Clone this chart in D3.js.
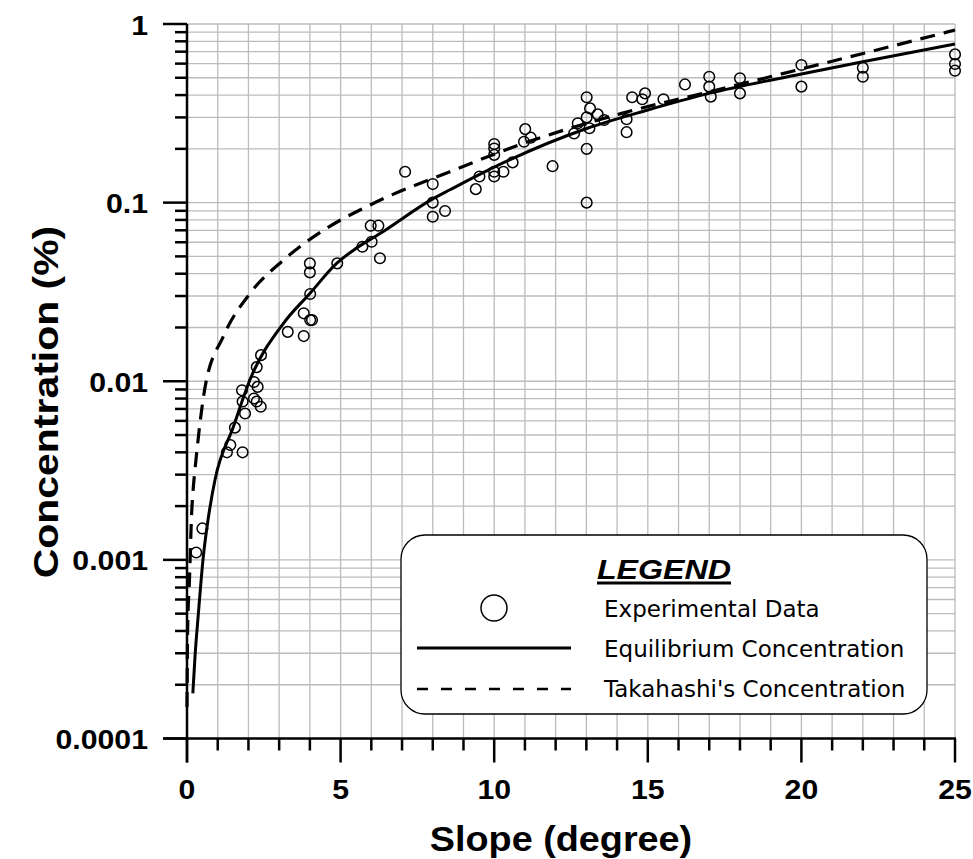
<!DOCTYPE html>
<html>
<head>
<meta charset="utf-8">
<script src="https://cdn.jsdelivr.net/npm/d3@7"></script>
<style>
  body { margin: 0; background: #fff; }
  svg { display: block; }
</style>
</head>
<body>
<div id="chart"></div>
<script>
// experimental points (slope in degree, concentration in %)
const expSlope = [0.30, 0.50, 1.30, 1.41, 1.56, 1.81, 1.79, 1.81, 1.89, 2.18, 2.18, 2.27, 2.27, 2.30, 2.40, 2.41,
    3.28, 3.80, 3.80, 4.01, 4.07, 4.01, 4.00, 4.00, 4.89, 5.71, 6.01, 6.28, 5.98, 6.23,
    7.10, 8.00, 8.00, 8.00, 8.40, 9.40, 9.52, 10.0, 10.0, 10.3, 10.6, 10.0, 10.0, 10.0,
    10.97, 11.01, 11.19, 11.90, 12.60, 12.72, 13.01, 13.12, 13.01, 13.10, 13.37, 13.58, 13.01, 13.01,
    14.31, 14.31, 14.49, 14.82, 14.91, 15.51, 16.21, 17.0, 17.0, 17.05, 18.0, 18.0,
    20.0, 20.0, 22.0, 22.0, 25.0, 25.0, 25.0]
const expConc = [0.0011, 0.0015, 0.0040, 0.0044, 0.0055, 0.0040, 0.0089, 0.0077, 0.0066, 0.0099, 0.0080, 0.0077, 0.0120, 0.0093, 0.0072, 0.0140,
    0.0189, 0.0179, 0.0240, 0.0220, 0.0220, 0.0308, 0.0407, 0.0457, 0.0457, 0.0566, 0.0604, 0.0488, 0.0743, 0.0743,
    0.149, 0.127, 0.100, 0.0834, 0.0897, 0.119, 0.140, 0.140, 0.149, 0.149, 0.168, 0.185, 0.201, 0.213,
    0.219, 0.258, 0.231, 0.160, 0.244, 0.278, 0.389, 0.337, 0.300, 0.261, 0.312, 0.290, 0.200, 0.100,
    0.293, 0.248, 0.389, 0.379, 0.409, 0.379, 0.459, 0.507, 0.446, 0.392, 0.497, 0.409,
    0.589, 0.446, 0.569, 0.507, 0.676, 0.597, 0.548]

// equilibrium concentration curve
const eqSlope = [0.19, 0.26, 0.37, 0.53, 0.69, 0.91, 1.51, 2.05, 3.14, 4.0, 4.87, 5.41, 6.39, 8.0, 8.56, 10, 13.01, 15, 17.02, 20, 22, 25]
const eqConc = [0.000179, 0.000286, 0.0005, 0.00104, 0.0017, 0.0028, 0.00557, 0.0102, 0.0211, 0.031, 0.0457, 0.054, 0.069, 0.105, 0.118, 0.158, 0.26, 0.33, 0.41, 0.525, 0.615, 0.773]

// Takahashi's concentration curve
const takSlope = [0.0, 0.02, 0.08, 0.15, 0.21, 0.26, 0.59, 1.18, 2.05, 3.14, 4.44, 6.01, 8.56, 10.97, 14.15, 17.24, 20, 24.73, 25]
const takConc = [0.00015, 0.0004, 0.00077, 0.0018, 0.0026, 0.0032, 0.0093, 0.0178, 0.031, 0.0477, 0.070, 0.098, 0.149, 0.215, 0.316, 0.427, 0.56, 0.90, 0.925]

const xMajor = [0, 5, 10, 15, 20, 25]
const yMajor = [1, 0.1, 0.01, 0.001, 0.0001]
const yLabels = ["1", "0.1", "0.01", "0.001", "0.0001"]
const legendLabels = ["Experimental Data", "Equilibrium Concentration", "Takahashi's Concentration"]

const W = 973, H = 859
const plot = {left: 187, right: 955, top: 24, bottom: 738.5}

const svg = d3.select("#chart").append("svg")
    .attr("width", W)
    .attr("height", H)

const x = d3.scaleLinear().domain([0, 25]).range([plot.left, plot.right])
const y = d3.scaleLog().domain([0.0001, 1]).range([plot.bottom, plot.top])

// minor log ticks 1..9 per decade
const yMinor = []
for (let e = -4; e < 0; e++) {
    for (let k = 1; k <= 9; k++) yMinor.push(k * Math.pow(10, e))
}
yMinor.push(1)
const xMinor = d3.range(0, 26)

// grid
const grid = svg.append("g").attr("stroke", "#bcbcbc").attr("stroke-width", 1.3)
grid.selectAll("line.v")
    .data(xMinor.slice(1))
    .join("line")
    .attr("x1", d => x(d)).attr("x2", d => x(d))
    .attr("y1", plot.top).attr("y2", plot.bottom)
grid.selectAll("line.h")
    .data(yMinor.slice(1))
    .join("line")
    .attr("x1", plot.left).attr("x2", plot.right)
    .attr("y1", d => y(d)).attr("y2", d => y(d))

// axes lines and ticks
const axes = svg.append("g").attr("stroke", "#000").attr("stroke-width", 2.5)
axes.append("line").attr("x1", plot.left - 24).attr("x2", plot.right + 1).attr("y1", plot.bottom).attr("y2", plot.bottom)
axes.append("line").attr("x1", plot.left).attr("x2", plot.left).attr("y1", plot.top).attr("y2", plot.bottom + 24)
axes.selectAll("line.xt")
    .data(xMinor)
    .join("line")
    .attr("x1", d => x(d)).attr("x2", d => x(d))
    .attr("y1", plot.bottom).attr("y2", d => plot.bottom + (d % 5 === 0 ? 24 : 12))
axes.selectAll("line.yt")
    .data(yMinor)
    .join("line")
    .attr("x1", d => plot.left - (yMajor.includes(d) ? 24 : 12)).attr("x2", plot.left)
    .attr("y1", d => y(d)).attr("y2", d => y(d))

// tick labels
const sx = 1.08
svg.append("g").selectAll("text")
    .data(xMajor)
    .join("text")
    .attr("transform", d => `translate(${x(d)},799) scale(${sx},1)`)
    .attr("text-anchor", "middle")
    .attr("font-family", "'Liberation Sans', Arial, sans-serif")
    .attr("font-weight", "bold")
    .attr("font-size", 28)
    .text(d => d)

svg.append("g").selectAll("text")
    .data(yMajor)
    .join("text")
    .attr("transform", d => `translate(148,${y(d) + 10.5}) scale(${sx},1)`)
    .attr("text-anchor", "end")
    .attr("font-family", "'Liberation Sans', Arial, sans-serif")
    .attr("font-weight", "bold")
    .attr("font-size", 28)
    .text((d, i) => yLabels[i])

// axis titles
svg.append("text")
    .attr("transform", `translate(561,851) scale(1.08,1)`)
    .attr("text-anchor", "middle")
    .attr("font-family", "'Liberation Sans', Arial, sans-serif")
    .attr("font-weight", "bold")
    .attr("font-size", 35)
    .text("Slope (degree)")

svg.append("text")
    .attr("transform", `translate(58,402) rotate(-90) scale(1.17,1)`)
    .attr("text-anchor", "middle")
    .attr("font-family", "'Liberation Sans', Arial, sans-serif")
    .attr("font-weight", "bold")
    .attr("font-size", 35)
    .text("Concentration (%)")

// curves
const line = d3.line()
    .x(d => x(d[0]))
    .y(d => y(d[1]))
    .curve(d3.curveMonotoneX)

svg.append("path")
    .datum(d3.zip(takSlope, takConc))
    .attr("d", line)
    .attr("fill", "none")
    .attr("stroke", "#000")
    .attr("stroke-width", 3.2)
    .attr("stroke-dasharray", "15,9")

svg.append("path")
    .datum(d3.zip(eqSlope, eqConc))
    .attr("d", line)
    .attr("fill", "none")
    .attr("stroke", "#000")
    .attr("stroke-width", 3)

// experimental data
svg.append("g").selectAll("circle")
    .data(d3.zip(expSlope, expConc))
    .join("circle")
    .attr("cx", d => x(d[0]))
    .attr("cy", d => y(d[1]))
    .attr("r", 5.3)
    .attr("fill", "none")
    .attr("stroke", "#000")
    .attr("stroke-width", 1.5)

// legend
const lg = svg.append("g")
lg.append("rect")
    .attr("x", 401).attr("y", 535)
    .attr("width", 526).attr("height", 179)
    .attr("rx", 24)
    .attr("fill", "#fff")
    .attr("stroke", "#000")
    .attr("stroke-width", 1.3)

lg.append("text")
    .attr("transform", "translate(664,579) scale(1.15,1)")
    .attr("text-anchor", "middle")
    .attr("font-family", "'Liberation Sans', Arial, sans-serif")
    .attr("font-weight", "bold")
    .attr("font-style", "italic")
    .attr("font-size", 28)
    .text("LEGEND")
lg.append("line")
    .attr("x1", 597).attr("x2", 731)
    .attr("y1", 583).attr("y2", 583)
    .attr("stroke", "#000").attr("stroke-width", 3)

lg.append("circle")
    .attr("cx", 494).attr("cy", 608).attr("r", 13)
    .attr("fill", "none").attr("stroke", "#000").attr("stroke-width", 1.5)
lg.append("line")
    .attr("x1", 417).attr("x2", 571).attr("y1", 648).attr("y2", 648)
    .attr("stroke", "#000").attr("stroke-width", 3)
lg.append("line")
    .attr("x1", 417).attr("x2", 571).attr("y1", 689).attr("y2", 689)
    .attr("stroke", "#000").attr("stroke-width", 2.5)
    .attr("stroke-dasharray", "11,13")

lg.selectAll("text.item")
    .data(legendLabels)
    .join("text")
    .attr("class", "item")
    .attr("x", 604)
    .attr("y", (d, i) => 617 + i * 40)
    .attr("font-family", "'DejaVu Sans', sans-serif")
    .attr("font-size", 23)
    .text(d => d)
</script>
</body>
</html>
